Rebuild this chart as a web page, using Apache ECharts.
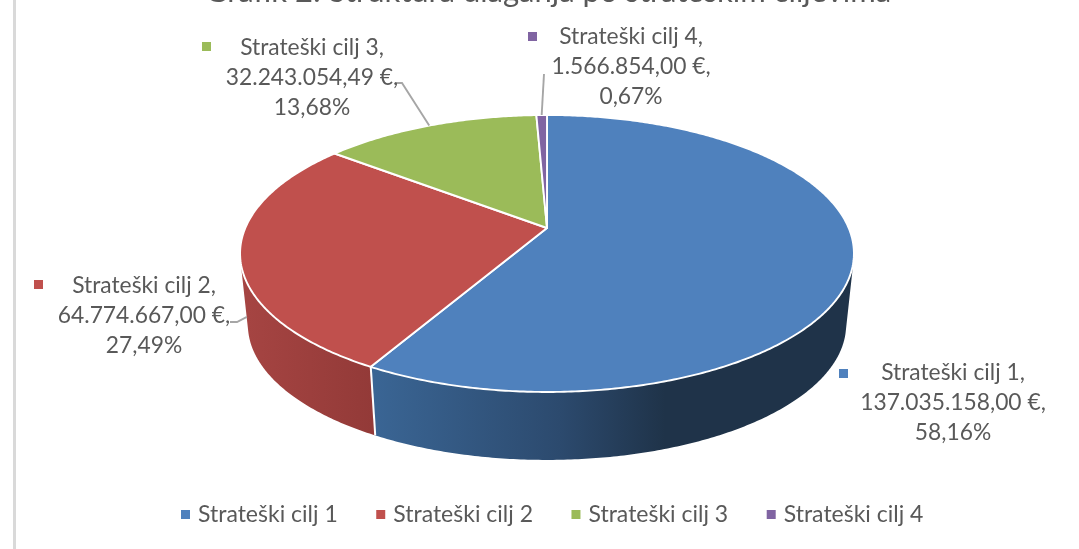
<!DOCTYPE html>
<html>
<head>
<meta charset="UTF-8">
<title>Grafik 2</title>
<script src="https://cdn.jsdelivr.net/npm/echarts@6/dist/echarts.min.js"></script>
<style>
html, body { margin: 0; padding: 0; background: #fff; overflow: hidden; }
#myChart { width: 1079px; height: 549px; }
</style>
</head>
<body>
<div id="myChart"></div>
<script>
// podaci
var chartTitle = 'Grafik 2: Struktura ulaganja po strateškim ciljevima';
var categories = ['Strateški cilj 1', 'Strateški cilj 2', 'Strateški cilj 3', 'Strateški cilj 4'];
var amounts = [137035158.00, 64774667.00, 32243054.49, 1566854.00];
var percents = [58.16, 27.49, 13.68, 0.67];

var colors = ['#4f81bd', '#c0504d', '#9bbb59', '#8064a2'];
var textColor = '#595959';
var fontName = 'Lato, "Open Sans", sans-serif';

// label placement: centre of text, top of text, key square, leader line
var labelLayout = [
    {x: 953, y: 358, keyX: 839, keyY: 369, leader: null},
    {x: 144, y: 271, keyX: 34, keyY: 280, leader: [[230, 322], [237, 322]], depth: 0.87},
    {x: 312, y: 33, keyX: 202, keyY: 42, leader: [[395, 83], [402, 83]], depth: 0},
    {x: 631, y: 22, keyX: 528, keyY: 32, leader: [[544, 74]], depth: 0}
];

// perspective pie: disc coords projected on screen
var persp = 0.184;
var topFace = {cx: 547, cy: 228, a: 301.7, b: 133.8};
var bottomFace = {cx: 547, cy: 300, a: 294, b: 130.5};

function project(face, t) {
    var u = Math.sin(t), v = Math.cos(t), w = 1 + persp * v;
    return [face.cx + face.a * u / w, face.cy - face.b * v / w];
}

function arc(face, from, to) {
    var pts = [], n = Math.max(2, Math.ceil(Math.abs(to - from) / 0.01));
    for (var i = 0; i <= n; i++) {
        pts.push(project(face, from + (to - from) * i / n));
    }
    return pts;
}

var total = 0;
for (var i = 0; i < amounts.length; i++) total += amounts[i];

function sliceStart(idx) {
    var sum = 0;
    for (var i = 0; i < idx; i++) sum += amounts[i];
    return sum / total * Math.PI * 2;
}

// is the outer wall at angle t facing the viewer
function isFront(t) {
    var d = 0.001;
    var p0 = project(topFace, t - d), p1 = project(topFace, t + d);
    var b = project(bottomFace, t), p = project(topFace, t);
    return (p1[0] - p0[0]) * (b[1] - p[1]) - (p1[1] - p0[1]) * (b[0] - p[0]) < 0;
}

var frontFrom = Math.PI, frontTo = Math.PI;
while (isFront(frontFrom - 0.005)) frontFrom -= 0.005;
while (isFront(frontTo + 0.005)) frontTo += 0.005;

var wallGradients = [
    [[375, '#3a6594'], [560, '#2c4a6e'], [665, '#1f3349']],
    [[248, '#a54442'], [372, '#933a38']]
];

function wallFill(idx) {
    var stops = wallGradients[idx], x0 = stops[0][0], x1 = stops[stops.length - 1][0];
    var list = [];
    for (var i = 0; i < stops.length; i++) {
        list.push({offset: (stops[i][0] - x0) / (x1 - x0), color: stops[i][1]});
    }
    return new echarts.graphic.LinearGradient(x0, 0, x1, 0, list, true);
}

function money(v) {
    var parts = v.toFixed(2).split('.');
    return parts[0].replace(/\B(?=(\d{3})+$)/g, '.') + ',' + parts[1];
}

function renderSlice(params) {
    var idx = params.seriesIndex;
    var start = sliceStart(idx), end = start + amounts[idx] / total * Math.PI * 2;
    var mid = (start + end) / 2;
    var layout = labelLayout[idx];
    var children = [];

    // outer wall, front part only
    var from = Math.max(start, frontFrom), to = Math.min(end, frontTo);
    if (from < to) {
        var wall = arc(topFace, from, to).concat(arc(bottomFace, to, from));
        children.push({type: 'polygon', z2: 1, shape: {points: wall}, style: {fill: wallFill(idx)}});
        var seams = [];
        if (start > frontFrom) seams.push(start);
        for (var s = 0; s < seams.length; s++) {
            children.push({
                type: 'line', z2: 3,
                shape: {
                    x1: project(topFace, seams[s])[0], y1: project(topFace, seams[s])[1],
                    x2: project(bottomFace, seams[s])[0], y2: project(bottomFace, seams[s])[1]
                },
                style: {stroke: '#fff', lineWidth: 2}
            });
        }
    }

    // top face
    var face = [[topFace.cx, topFace.cy]].concat(arc(topFace, start, end));
    children.push({
        type: 'polygon', z2: 5, shape: {points: face},
        style: {fill: colors[idx], stroke: '#fff', lineWidth: 1.9, lineJoin: 'round'}
    });

    // leader line
    if (layout.leader) {
        var tp = project(topFace, mid), bp = project(bottomFace, mid);
        var end0 = [tp[0] + (bp[0] - tp[0]) * layout.depth, tp[1] + (bp[1] - tp[1]) * layout.depth];
        children.push({
            type: 'polyline', z2: 6,
            shape: {points: layout.leader.concat([end0])},
            style: {stroke: '#a6a6a6', lineWidth: 1.9, fill: null}
        });
    }

    // data label
    children.push({
        type: 'rect', z2: 7,
        shape: {x: layout.keyX, y: layout.keyY, width: 9, height: 9},
        style: {fill: colors[idx]}
    });
    children.push({
        type: 'text', z2: 7, x: layout.x, y: layout.y,
        style: {
            text: categories[idx] + ',\n' + money(amounts[idx]) + ' €,\n' + String(percents[idx]).replace('.', ',') + '%',
            fill: textColor, font: '22.8px ' + fontName, align: 'center', verticalAlign: 'top', lineHeight: 29.7
        }
    });
    return {type: 'group', children: children};
}

var series = [];
for (var j = 0; j < categories.length; j++) {
    series.push({
        type: 'custom',
        name: categories[j],
        coordinateSystem: 'none',
        data: [amounts[j]],
        itemStyle: {color: colors[j]},
        renderItem: renderSlice,
        animation: false,
        silent: true
    });
}

var chart_myChart = echarts.init(document.getElementById('myChart'), null, {renderer: 'canvas'});
chart_myChart.setOption({
    backgroundColor: '#fff',
    animation: false,
    title: {
        text: chartTitle,
        left: 543,
        top: -29,
        textAlign: 'center',
        textStyle: {color: textColor, fontFamily: fontName, fontSize: 31, fontWeight: 'normal'}
    },
    legend: {
        data: categories,
        left: 176,
        top: 498,
        icon: 'path://M0 0H10V10H0Z',
        itemWidth: 15,
        itemHeight: 9,
        itemGap: 38.5,
        textStyle: {color: textColor, fontFamily: fontName, fontSize: 23},
        selectedMode: false
    },
    graphic: [{
        type: 'rect',
        shape: {x: 13, y: 0, width: 3, height: 549},
        style: {fill: '#d9d9d9'}
    }],
    series: series
});
</script>
</body>
</html>
